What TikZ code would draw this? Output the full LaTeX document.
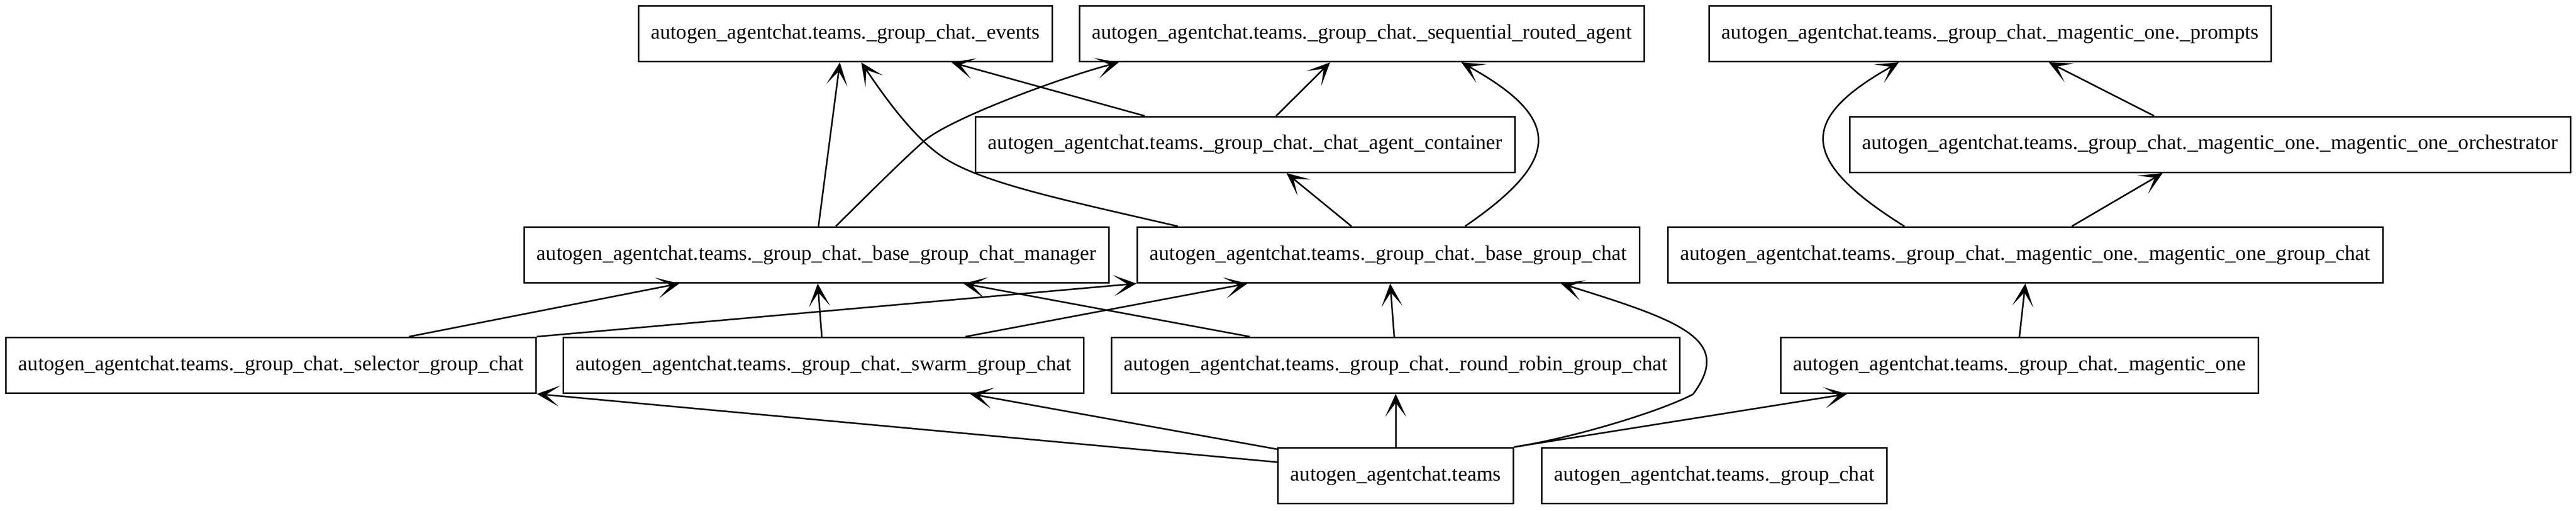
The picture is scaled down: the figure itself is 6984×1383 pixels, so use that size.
\documentclass[tikz,border=0pt]{standalone}
\usepackage{fontspec}
\setmainfont{Liberation Serif}
\usetikzlibrary{arrows.meta,calc}

\begin{document}
\begin{tikzpicture}[x=0.2384pt,y=-0.2384pt,
    module/.style={draw,line width=1pt,minimum height=36pt,inner xsep=8pt,
      font=\fontsize{13.5}{16}\selectfont},
    imports/.style={line width=1pt,-{Stealth[length=14.8pt,width=13.6pt,inset=9pt]}}]
  \useasboundingbox (0,0) rectangle (6984,1383);

  %% top row
  \node[module] (events) at (2292,91.5) {autogen\_agentchat.teams.\_group\_chat.\_events};
  \node[module] (seq) at (3692,91.5) {autogen\_agentchat.teams.\_group\_chat.\_sequential\_routed\_agent};
  \node[module] (prompts) at (5396,91.5) {autogen\_agentchat.teams.\_group\_chat.\_magentic\_one.\_prompts};

  %% second row
  \node[module] (container) at (3376,391.5) {autogen\_agentchat.teams.\_group\_chat.\_chat\_agent\_container};
  \node[module] (orch) at (5992,391.5) {autogen\_agentchat.teams.\_group\_chat.\_magentic\_one.\_magentic\_one\_orchestrator};

  %% third row
  \node[module] (manager) at (2214,690.5) {autogen\_agentchat.teams.\_group\_chat.\_base\_group\_chat\_manager};
  \node[module] (basegc) at (3764,690.5) {autogen\_agentchat.teams.\_group\_chat.\_base\_group\_chat};
  \node[module] (mogc) at (5491,690.5) {autogen\_agentchat.teams.\_group\_chat.\_magentic\_one.\_magentic\_one\_group\_chat};

  %% fourth row
  \node[module] (selector) at (735,989.5) {autogen\_agentchat.teams.\_group\_chat.\_selector\_group\_chat};
  \node[module] (swarm) at (2233,989.5) {autogen\_agentchat.teams.\_group\_chat.\_swarm\_group\_chat};
  \node[module] (rr) at (3784,989.5) {autogen\_agentchat.teams.\_group\_chat.\_round\_robin\_group\_chat};
  \node[module] (mo) at (5475,989.5) {autogen\_agentchat.teams.\_group\_chat.\_magentic\_one};

  %% bottom row
  \node[module] (teams) at (3784,1288.5) {autogen\_agentchat.teams};
  \node[module] (gc) at (4648,1288.5) {autogen\_agentchat.teams.\_group\_chat};

  %% into the top row
  \draw[imports] ($(manager.north)+(5,0)$) -- ($(events.south)+(-15,0)$);
  \draw[imports] ($(basegc.north)+(-571,0)$) .. controls (2900,545) and (2680,500) .. (2568,433)
    .. controls (2478,379) and (2390,250) .. ($(events.south)+(43,0)$);
  \draw[imports] ($(container.north)+(-273,0)$) -- ($(events.south)+(288,0)$);
  \draw[imports] ($(manager.north)+(52,0)$) .. controls (2340,540) and (2440,440) .. (2504,383)
    .. controls (2574,321) and (2883,208) .. ($(seq.south)+(-659,0)$);
  \draw[imports] ($(container.north)+(84,0)$) -- ($(seq.south)+(-86,0)$);
  \draw[imports] ($(basegc.north)+(208,0)$) .. controls (4236,432) and (4236,321) .. ($(seq.south)+(270,0)$);
  \draw[imports] ($(mogc.north)+(-328,0)$) .. controls (4875,433) and (4875,322) .. ($(prompts.south)+(-248,0)$);
  \draw[imports] ($(orch.north)+(-152,0)$) -- ($(prompts.south)+(159,0)$);

  %% into the second row
  \draw[imports] ($(basegc.north)+(-100,0)$) -- ($(container.south)+(112,0)$);
  \draw[imports] ($(mogc.north)+(126,0)$) -- ($(orch.south)+(-129,0)$);

  %% into the third row
  \draw[imports] ($(selector.north)+(374,0)$) -- ($(manager.south)+(-372,0)$);
  \draw[imports] (selector.north east) -- (basegc.south west);
  \draw[imports] ($(swarm.north)+(-5,0)$) -- ($(manager.south)+(3,0)$);
  \draw[imports] ($(swarm.north)+(385,0)$) -- ($(basegc.south)+(-382,0)$);
  \draw[imports] ($(rr.north)+(-396,0)$) -- ($(manager.south)+(398,0)$);
  \draw[imports] ($(rr.north)+(-4,0)$) -- ($(basegc.south)+(5,0)$);
  \draw[imports] (mo.north) -- (mogc.south);

  %% from teams
  \draw[imports] ($(teams.north west)+(0,41)$) -- (selector.south east);
  \draw[imports] ($(teams.north west)+(0,6)$) -- ($(swarm.south)+(397,0)$);
  \draw[imports] (teams.north) -- (rr.south);
  \draw[imports] (teams.north east) .. controls (4270,1185) and (4500,1115) .. (4590,1068)
    .. controls (4700,920) and (4560,870) .. ($(basegc.south)+(468,0)$);
  \draw[imports] (teams.north east) -- ($(mo.south)+(-467,0)$);
\end{tikzpicture}
\end{document}
